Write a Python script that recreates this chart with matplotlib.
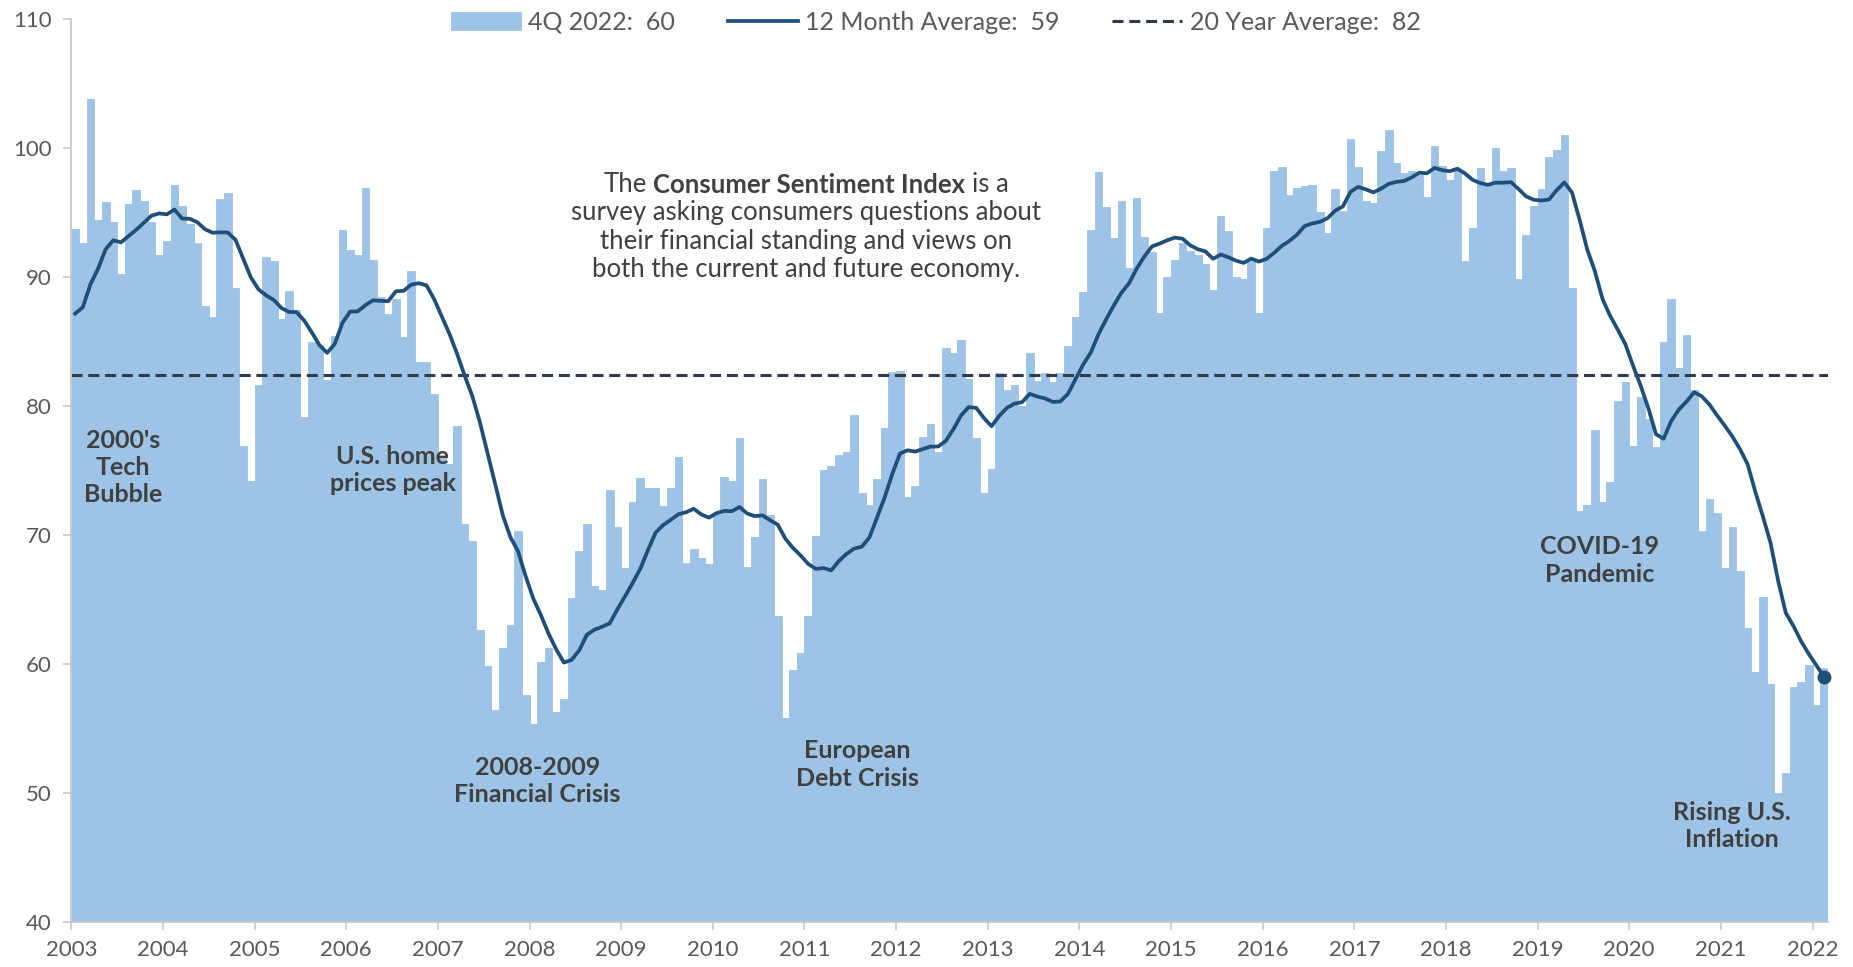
import matplotlib.pyplot as plt
from matplotlib.transforms import IdentityTransform
import numpy as np
import pandas as pd

plt.rcParams['font.family'] = ['Lato', 'DejaVu Sans']

# monthly index readings, Dec 2002 - Oct 2003 (only feed the first 12m averages)
lead_in = [86.7, 82.4, 79.9, 77.6, 86.0, 92.1, 89.7, 90.9, 89.3, 87.7, 89.6]

# monthly index readings shown as bars, Nov 2003 - Dec 2022
sentiment = [
    93.7, 92.6,
    103.8, 94.4, 95.8, 94.2, 90.2, 95.6, 96.7, 95.9, 94.2, 91.7, 92.8, 97.1,
    95.5, 94.1, 92.6, 87.7, 86.9, 96.0, 96.5, 89.1, 76.9, 74.2, 81.6, 91.5,
    91.2, 86.7, 88.9, 87.4, 79.1, 84.9, 84.7, 82.0, 85.4, 93.6, 92.1, 91.7,
    96.9, 91.3, 88.4, 87.1, 88.3, 85.3, 90.4, 83.4, 83.4, 80.9, 76.1, 75.5,
    78.4, 70.8, 69.5, 62.6, 59.8, 56.4, 61.2, 63.0, 70.3, 57.6, 55.3, 60.1,
    61.2, 56.3, 57.3, 65.1, 68.7, 70.8, 66.0, 65.7, 73.5, 70.6, 67.4, 72.5,
    74.4, 73.6, 73.6, 72.2, 73.6, 76.0, 67.8, 68.9, 68.2, 67.7, 71.6, 74.5,
    74.2, 77.5, 67.5, 69.8, 74.3, 71.5, 63.7, 55.8, 59.5, 60.8, 63.7, 69.9,
    75.0, 75.3, 76.2, 76.4, 79.3, 73.2, 72.3, 74.3, 78.3, 82.6, 82.7, 72.9,
    73.8, 77.6, 78.6, 76.4, 84.5, 84.1, 85.1, 82.1, 77.5, 73.2, 75.1, 82.5,
    81.2, 81.6, 80.0, 84.1, 81.9, 82.5, 81.8, 82.5, 84.6, 86.9, 88.8, 93.6,
    98.1, 95.4, 93.0, 95.9, 90.7, 96.1, 93.1, 91.9, 87.2, 90.0, 91.3, 92.6,
    92.0, 91.7, 91.0, 89.0, 94.7, 93.5, 90.0, 89.8, 91.2, 87.2, 93.8, 98.2,
    98.5, 96.3, 96.9, 97.0, 97.1, 95.0, 93.4, 96.8, 95.1, 100.7, 98.5, 95.9,
    95.7, 99.7, 101.4, 98.8, 98.0, 98.2, 97.9, 96.2, 100.1, 98.6, 97.5, 98.3,
    91.2, 93.8, 98.4, 97.2, 100.0, 98.2, 98.4, 89.8, 93.2, 95.5, 96.8, 99.3,
    99.8, 101.0, 89.1, 71.8, 72.3, 78.1, 72.5, 74.1, 80.4, 81.8, 76.9, 80.7,
    79.0, 76.8, 84.9, 88.3, 82.9, 85.5, 81.2, 70.3, 72.8, 71.7, 67.4, 70.6,
    67.2, 62.8, 59.4, 65.2, 58.4, 50.0, 51.5, 58.2, 58.6, 59.9, 56.8, 59.7,
]

twenty_year_avg = 82.4

year_labels = ['2003', '2004', '2005', '2006', '2007', '2008', '2009', '2010',
               '2011', '2012', '2013', '2014', '2015', '2016', '2017', '2018',
               '2019', '2020', '2021', '2022']

legend_labels = ['4Q 2022:  60', '12 Month Average:  59', '20 Year Average:  82']

BAR = '#9DC3E6'
LINE = '#1F4E79'
DASH = '#2E3A4E'
GREY = '#595959'
DARK = '#404040'
AXIS = '#C8C8C8'

fig = plt.figure(figsize=(18.53, 9.67), dpi=100)
ax = fig.add_axes([0.0385, 0.0467, 0.9479, 0.9341])

n = len(sentiment)
x = np.arange(n)
bars = ax.bar(x, sentiment, width=1.0, align='edge', color=BAR,
              edgecolor=BAR, linewidth=0.6, zorder=1)

# trailing 12 month average of the monthly readings
avg = pd.Series(lead_in + sentiment).rolling(12).mean().to_numpy()[len(lead_in):]
line, = ax.plot(x + 0.5, avg, color=LINE, lw=2.7, zorder=3,
                solid_joinstyle='round')
ax.plot(x[-1] + 0.5, avg[-1], 'o', color=LINE, ms=9, clip_on=False, zorder=4)

dashed = ax.axhline(twenty_year_avg, color=DASH, lw=2.2, dashes=(3.6, 1.9),
                    zorder=2)

ax.set_xlim(0, n)
ax.set_ylim(40, 110)
ax.set_yticks(range(40, 111, 10))
ax.set_xticks(np.arange(0, n, 12))
ax.set_xticklabels(year_labels)

for side in ['top', 'right']:
    ax.spines[side].set_visible(False)
for side in ['left', 'bottom']:
    ax.spines[side].set_color(AXIS)
    ax.spines[side].set_linewidth(1.3)
ax.tick_params(axis='both', colors=AXIS, labelcolor=GREY, labelsize=16,
               length=6, width=1.2, direction='out')
ax.tick_params(axis='x', pad=7)
ax.tick_params(axis='y', pad=8)

fig.legend(handles=[bars, line, dashed], labels=legend_labels, loc='center',
           bbox_to_anchor=(0.505, 0.977), ncol=3, frameon=False, fontsize=18,
           handlelength=2.8, handletextpad=0.3, columnspacing=2.1,
           labelcolor=GREY)

# event call-outs
events = [
    ("2000's\nTech\nBubble", 6.8, 75.2),
    ("U.S. home\nprices peak", 42.1, 75.0),
    ("2008-2009\nFinancial Crisis", 61.0, 50.9),
    ("European\nDebt Crisis", 102.9, 52.2),
    ("COVID-19\nPandemic", 200.1, 68.0),
    ("Rising U.S.\nInflation", 217.4, 47.4),
]
for label, ex, ey in events:
    ax.text(ex, ey, label, ha='center', va='center', fontsize=18,
            fontweight='bold', color=DARK, linespacing=1.22, zorder=5)

# explanatory note, first line has a bold part
note_x = 96.2
note_size = 18.5
note_lines = ['survey asking consumers questions about',
              'their financial standing and views on',
              'both the current and future economy.']
for txt, ny in zip(note_lines, [94.95, 92.75, 90.55]):
    ax.text(note_x, ny, txt, ha='center', va='center', fontsize=note_size,
            color=DARK, zorder=5)

r = fig.canvas.get_renderer()
pieces = [('The', 'normal'), ('Consumer Sentiment Index', 'bold'), ('is a', 'normal')]
objs = [ax.text(0, 0, s, fontsize=note_size, fontweight=w, color=DARK,
                va='center', ha='left', transform=IdentityTransform(), zorder=5)
        for s, w in pieces]
probe1 = ax.text(0, 0, 'x x', fontsize=note_size)
probe2 = ax.text(0, 0, 'xx', fontsize=note_size)
space = probe1.get_window_extent(r).width - probe2.get_window_extent(r).width
probe1.remove()
probe2.remove()
widths = [o.get_window_extent(r).width for o in objs]
total = sum(widths) + space * (len(objs) - 1)
cx, cy = ax.transData.transform((note_x, 97.14))
start = cx - total / 2
for o, w in zip(objs, widths):
    o.set_position((start, cy))
    start += w + space

fig.savefig('out.png', dpi=100)
